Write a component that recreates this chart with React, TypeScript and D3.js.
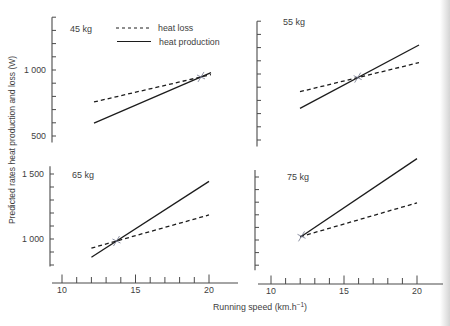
import React from "react";
import * as d3 from "d3";

// ---- data ----
const panelNames = ["45 kg", "55 kg", "65 kg", "75 kg"];
const speedRange = [12, 20]; // km/h, start and end of each predicted line
const heatLoss = [
  [758, 965],
  [866, 1086],
  [930, 1185],
  [1026, 1295],
];
const heatProduction = [
  [598, 980],
  [740, 1220],
  [860, 1443],
  [1022, 1646],
];
const topTicks = d3.range(500, 1401, 100);
const bottomTicks = d3.range(800, 1501, 100);
const topLabels = [500, 1000];
const bottomLabels = [1000, 1500];
const xTicks = d3.range(10, 21, 1);
const xMajor = [10, 15, 20];
const legendItems = ["heat loss", "heat production"];

// ---- layout ----
const W = 450;
const H = 326;
const font = "'Liberation Sans', Arial, sans-serif";
const ink = "#1c1c1c";
const textCol = "#3e3e3e";
const axisCol = "#4a4a4a";

const xLeft = d3.scaleLinear().domain([10, 20]).range([62, 209]);
const xRight = d3.scaleLinear().domain([10, 20]).range([271, 417]);

type Panel = {
  ax: number;
  x: d3.ScaleLinear<number, number>;
  y: d3.ScaleLinear<number, number>;
  extent: [number, number];
  ticks: number[];
  labels: number[];
  name: [number, number];
};

const panels: Panel[] = [
  {
    ax: 52,
    x: d3.scaleLinear().domain([12, 20]).range([94, 211]),
    y: d3.scaleLinear().domain([500, 1000]).range([136, 70]),
    extent: [450, 1400],
    ticks: topTicks,
    labels: topLabels,
    name: [70, 32],
  },
  {
    ax: 257,
    x: d3.scaleLinear().domain([12, 20]).range([300, 419]),
    y: d3.scaleLinear().domain([500, 1000]).range([140, 74]),
    extent: [450, 1400],
    ticks: topTicks,
    labels: [],
    name: [283, 25],
  },
  {
    ax: 50,
    x: xLeft,
    y: d3.scaleLinear().domain([1000, 1500]).range([239, 174]),
    extent: [788, 1560],
    ticks: bottomTicks,
    labels: bottomLabels,
    name: [72, 178],
  },
  {
    ax: 255,
    x: xRight,
    y: d3.scaleLinear().domain([1000, 1500]).range([240, 177]),
    extent: [760, 1555],
    ticks: bottomTicks,
    labels: [],
    name: [287, 180],
  },
];

const fmt = (v: number) => d3.format(",")(v).replace(",", " ");

function crossing(loss: number[], prod: number[]) {
  const [s0, s1] = speedRange;
  const dl = loss[1] - loss[0];
  const dp = prod[1] - prod[0];
  let t = (prod[0] - loss[0]) / (dl - dp);
  if (!isFinite(t)) t = 0;
  t = Math.max(0, Math.min(1, t));
  return { s: s0 + t * (s1 - s0), v: loss[0] + t * dl };
}

function PanelView({ p, i }: { p: Panel; i: number }) {
  const line = d3
    .line<[number, number]>()
    .x((d) => p.x(d[0]))
    .y((d) => p.y(d[1]));
  const lossPts: [number, number][] = speedRange.map((s, k) => [s, heatLoss[i][k]]);
  const prodPts: [number, number][] = speedRange.map((s, k) => [s, heatProduction[i][k]]);
  const c = crossing(heatLoss[i], heatProduction[i]);
  const cx = p.x(c.s);
  const cy = p.y(c.v);
  return (
    <g>
      <line
        x1={p.ax}
        x2={p.ax}
        y1={p.y(p.extent[0])}
        y2={p.y(p.extent[1])}
        stroke={axisCol}
        strokeWidth={1.1}
      />
      {p.ticks.map((t) => (
        <line
          key={t}
          x1={p.ax}
          x2={p.ax + 4}
          y1={p.y(t)}
          y2={p.y(t)}
          stroke={axisCol}
          strokeWidth={1}
        />
      ))}
      {p.labels.map((t) => (
        <text
          key={t}
          x={p.ax - 6}
          y={p.y(t)}
          dy="0.35em"
          textAnchor="end"
          fontSize={8.8}
          fontFamily={font}
          fill={textCol}
        >
          {fmt(t)}
        </text>
      ))}
      <text x={p.name[0]} y={p.name[1]} fontSize={9} fontFamily={font} fill={textCol}>
        {panelNames[i]}
      </text>
      <path d={line(lossPts) || ""} fill="none" stroke={ink} strokeWidth={1.3} strokeDasharray="4,3" />
      <path d={line(prodPts) || ""} fill="none" stroke={ink} strokeWidth={1.3} />
      <g stroke="#6b7088" strokeWidth={0.9} opacity={0.85}>
        <line x1={cx - 3} x2={cx + 3} y1={cy + 5} y2={cy - 5} />
        <line x1={cx - 4} x2={cx + 4} y1={cy - 2} y2={cy + 2} />
      </g>
    </g>
  );
}

function XAxis({ x, y, from, to }: { x: d3.ScaleLinear<number, number>; y: number; from: number; to: number }) {
  return (
    <g>
      <line x1={from} x2={to} y1={y} y2={y} stroke={axisCol} strokeWidth={1.1} />
      {xTicks.map((t) => {
        const major = xMajor.includes(t);
        return (
          <line
            key={t}
            x1={x(t)}
            x2={x(t)}
            y1={y}
            y2={y - (major ? 8.5 : 6)}
            stroke={axisCol}
            strokeWidth={1}
          />
        );
      })}
      {xMajor.map((t) => (
        <text
          key={t}
          x={x(t)}
          y={y + 9.5}
          textAnchor="middle"
          fontSize={8.8}
          fontFamily={font}
          fill={textCol}
        >
          {t}
        </text>
      ))}
    </g>
  );
}

export default function App() {
  return (
    <svg
      width={W}
      height={H}
      style={{ position: "absolute", left: 0, top: 0, background: "#fff" }}
    >
      <defs>
        <linearGradient id="edge" x1="0" x2="1" y1="0" y2="0">
          <stop offset="0" stopColor="#ffffff" />
          <stop offset="1" stopColor="#d4d4d4" />
        </linearGradient>
      </defs>
      <rect x={0} y={0} width={W} height={H} fill="#fff" />
      <rect x={440} y={0} width={10} height={H} fill="url(#edge)" />
      {panels.map((p, i) => (
        <PanelView key={i} p={p} i={i} />
      ))}
      <XAxis x={xLeft} y={283} from={52} to={238} />
      <XAxis x={xRight} y={284} from={258} to={443} />
      {/* legend */}
      <g fontFamily={font} fontSize={8.8} fill={textCol}>
        <line x1={116} x2={150} y1={28} y2={28} stroke={ink} strokeWidth={1} strokeDasharray="3,3" />
        <text x={158} y={28} dy="0.35em">
          {legendItems[0]}
        </text>
        <line x1={117} x2={151} y1={41.5} y2={41.5} stroke={ink} strokeWidth={1} />
        <text x={159} y={41.5} dy="0.35em">
          {legendItems[1]}
        </text>
      </g>
      <text
        transform="translate(12,140) rotate(-90)"
        textAnchor="middle"
        dy="0.35em"
        fontSize={8.5}
        fontFamily={font}
        fill={textCol}
      >
        Predicted rates heat production and loss (W)
      </text>
      <text x={260} y={310} textAnchor="middle" fontSize={8.8} fontFamily={font} fill={textCol}>
        Running speed (km.h
        <tspan dy={-3.5} fontSize={6.5}>−1</tspan>
        <tspan dy={3.5}>)</tspan>
      </text>
    </svg>
  );
}
